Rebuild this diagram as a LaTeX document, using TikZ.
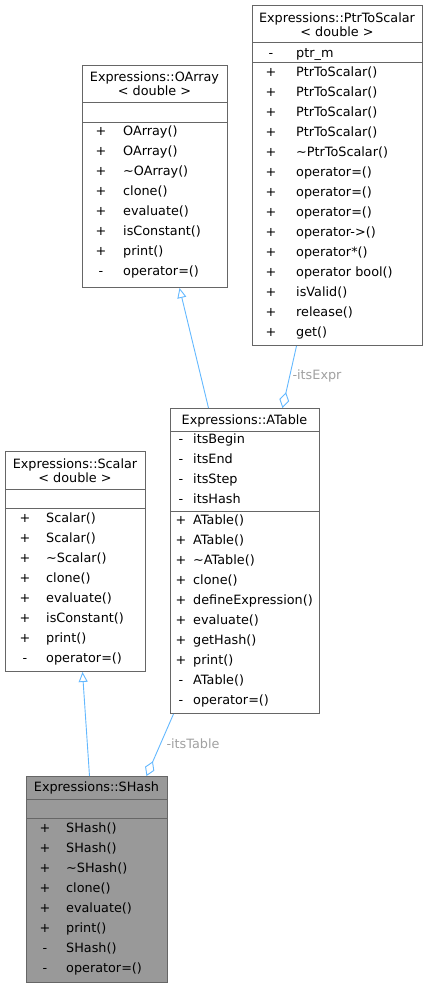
\documentclass[tikz,border=0pt]{standalone}
\usepackage{fontspec}
\setmainfont{DejaVu Sans}
\usepackage{xcolor}
\usepackage{tikz}
\usetikzlibrary{arrows.meta,positioning,calc}
\definecolor{edgeblue}{HTML}{63B8FF}
\definecolor{boxgray}{HTML}{666666}
\definecolor{fillgray}{HTML}{999999}
\definecolor{labelgray}{HTML}{A0A0A0}

\begin{document}
\begin{tikzpicture}[
  x=1pt, y=-1pt,
  font=\fontsize{12.8}{14}\selectfont,
  classbox/.style={
    draw=boxgray, line width=1pt, fill=white, anchor=north west,
    inner sep=0pt,
  },
  sep/.style={draw=boxgray, line width=1pt},
  title/.style={align=center, inner sep=0pt},
  row/.style={inner sep=0pt, text height=11.5pt, text depth=2.5pt},
  sign/.style={row, anchor=center},
  member/.style={row, anchor=west},
  inherit/.style={draw=edgeblue, line width=0.9pt,
    -{Triangle[fill=white, length=10pt, width=9pt]}},
  aggr/.style={draw=edgeblue, line width=0.9pt,
    -{Diamond[fill=white, length=16pt, width=10pt]}},
  rolelabel/.style={text=labelgray, inner sep=0pt},
]
\useasboundingbox (0,0) rectangle (428,987);
% class boxes
\node[classbox, minimum width=170pt, minimum height=340pt] (ptr) at (252,5) {};
\node[classbox, minimum width=145pt, minimum height=222pt] (oarray) at (82,65) {};
\node[classbox, minimum width=149pt, minimum height=305pt] (atable) at (170,408) {};
\node[classbox, minimum width=140pt, minimum height=220pt] (scalar) at (5,451) {};
\node[classbox, fill=fillgray, minimum width=141pt, minimum height=206pt] (shash) at (26,776) {};
% compartments
\foreach \b/\y in {ptr/43, ptr/63, oarray/103, oarray/123, atable/431,
                   atable/511, scalar/489, scalar/508, shash/799, shash/818} {
  \draw[sep] (\b.west |- 0,\y) -- (\b.east |- 0,\y);
}
% PtrToScalar
\node[title] (ptrname) at (337,24.5) {Expressions::PtrToScalar\\< double >};
\node[sign] (ptrattrs) at (271,53) {-};
\node[member] (ptrattr) at (296,53) {ptr\_m};
\foreach \s/\t [count=\i from 0] in {+/PtrToScalar(), +/PtrToScalar(),
    +/PtrToScalar(), +/PtrToScalar(), +/\textasciitilde PtrToScalar(),
    +/operator=(), +/operator=(), +/operator=(), +/operator->(),
    +/operator*(), +/operator bool(), +/isValid(), +/release(), +/get()} {
  \node[sign] (ptrs\i) at (271,72+20*\i) {\s};
  \node[member] (ptrm\i) at (296,72+20*\i) {\t};
}
% OArray
\node[title] (oarrayname) at (154.5,84) {Expressions::OArray\\< double >};
\foreach \s/\t [count=\i from 0] in {+/OArray(), +/OArray(),
    +/\textasciitilde OArray(), +/clone(), +/evaluate(), +/isConstant(),
    +/print(), -/operator=()} {
  \node[sign] (oarrays\i) at (101,131+20*\i) {\s};
  \node[member] (oarraym\i) at (123,131+20*\i) {\t};
}
% ATable
\node[title] (atablename) at (244.5,420.5) {Expressions::ATable};
\foreach \t [count=\i from 0] in {itsBegin, itsEnd, itsStep, itsHash} {
  \node[sign] (atablea\i) at (181,439+20*\i) {-};
  \node[member] (atableattr\i) at (193,439+20*\i) {\t};
}
\foreach \s/\t [count=\i from 0] in {+/ATable(), +/ATable(),
    +/\textasciitilde ATable(), +/clone(), +/defineExpression(),
    +/evaluate(), +/getHash(), +/print(), -/ATable(), -/operator=()} {
  \node[sign] (atables\i) at (181,520+20*\i) {\s};
  \node[member] (atablem\i) at (193,520+20*\i) {\t};
}
% Scalar
\node[title] (scalarname) at (75,470.5) {Expressions::Scalar\\< double >};
\foreach \s/\t [count=\i from 0] in {+/Scalar(), +/Scalar(),
    +/\textasciitilde Scalar(), +/clone(), +/evaluate(), +/isConstant(),
    +/print(), -/operator=()} {
  \node[sign] (scalars\i) at (25,518+20*\i) {\s};
  \node[member] (scalarm\i) at (46,518+20*\i) {\t};
}
% SHash
\node[title] (shashname) at (96.5,787.5) {Expressions::SHash};
\foreach \s/\t [count=\i from 0] in {+/SHash(), +/SHash(),
    +/\textasciitilde SHash(), +/clone(), +/evaluate(), +/print(),
    -/SHash(), -/operator=()} {
  \node[sign] (shashs\i) at (45,828+20*\i) {\s};
  \node[member] (shashm\i) at (66,828+20*\i) {\t};
}
% relations
\draw[inherit] ([xshift=-7.5pt]shash.north) -- ([xshift=7pt]scalar.south);
\draw[inherit] ([xshift=-36.5pt]atable.north) -- ([xshift=24.5pt]oarray.south);
\draw[aggr] ([xshift=-41pt]ptr.south) -- ([xshift=37.5pt]atable.north);
\draw[aggr] ([xshift=-71.5pt]atable.south) -- ([xshift=49.5pt]shash.north);
\node[rolelabel] (exprlabel) at (317,375.5) {-itsExpr};
\node[rolelabel] (tablelabel) at (193,743.5) {-itsTable};
\end{tikzpicture}
\end{document}
